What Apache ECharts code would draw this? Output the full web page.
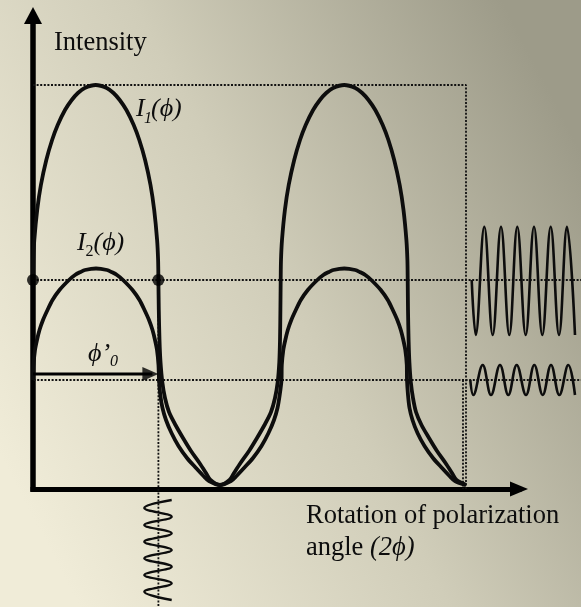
<!DOCTYPE html>
<html>
<head>
<meta charset="utf-8">
<script src="https://cdn.jsdelivr.net/npm/echarts/dist/echarts.min.js"></script>
<style>
  html, body { margin: 0; padding: 0; }
  #chart { width: 581px; height: 607px; }
</style>
</head>
<body>
<div id="chart"></div>
<script>
// Rotation angle (2φ) on x, normalised intensity on y.
const i1Curve = [
  [0, 0.5125], [0.3, 0.5625], [1.3, 0.6125], [4.2, 0.6875], [7.9, 0.75], [13.3, 0.8125],
  [19.1, 0.8625], [24.7, 0.9], [32, 0.9375], [38.7, 0.9625], [44.9, 0.98], [51.7, 0.9925],
  [62.7, 1], [73.7, 0.9925], [80.5, 0.98], [86.7, 0.9625], [93.4, 0.9375], [100.7, 0.9],
  [106.3, 0.8625], [112.1, 0.8125], [117.5, 0.75], [121.2, 0.6875], [124.1, 0.6125],
  [125.1, 0.5625], [125.4, 0.5125],
  [125.8, 0.4375], [126.5, 0.3625], [127.5, 0.3075], [129.3, 0.2575], [132, 0.2175],
  [136, 0.1825], [142.5, 0.15], [150, 0.1175], [158, 0.085], [166.5, 0.055], [173, 0.03],
  [177.5, 0.0125], [187, 0],
  [196.5, 0.0125], [201, 0.03], [207.5, 0.055], [216, 0.085], [224, 0.1175], [231.5, 0.15],
  [238, 0.1825], [242, 0.2175], [244.7, 0.2575], [246.3, 0.3075], [247, 0.3625], [247.4, 0.4375],
  [247.7, 0.5125],
  [248, 0.5625], [249, 0.6125], [251.9, 0.6875], [255.7, 0.75], [261.2, 0.8125], [267, 0.8625],
  [272.7, 0.9], [280.1, 0.9375], [286.9, 0.9625], [293.2, 0.98], [300.1, 0.9925], [311.2, 1],
  [322.3, 0.9925], [329.2, 0.98], [335.5, 0.9625], [342.3, 0.9375], [349.7, 0.9], [355.4, 0.8625],
  [361.2, 0.8125], [366.7, 0.75], [370.5, 0.6875], [373.4, 0.6125], [374.4, 0.5625],
  [374.7, 0.5125],
  [375, 0.4375], [375.6, 0.3625], [376.4, 0.3075], [377.8, 0.2575], [380, 0.2175], [383, 0.1825],
  [388.5, 0.15], [396, 0.1175], [404, 0.085], [412.5, 0.055], [419, 0.03], [423.5, 0.0125],
  [433, 0]
];
const i2Curve = [
  [0, 0.2625], [0.5, 0.3], [2, 0.3375], [4, 0.3625], [6.5, 0.3875], [10, 0.4125], [14.5, 0.4375],
  [19.5, 0.4625], [26.5, 0.4875], [36, 0.5125], [42, 0.525], [47.5, 0.5325], [52, 0.5375],
  [63, 0.5413], [74, 0.5375], [78.5, 0.5325], [84, 0.525], [90, 0.5125], [99.5, 0.4875],
  [106.5, 0.4625], [111.5, 0.4375], [116, 0.4125], [119.5, 0.3875], [122, 0.3625], [124, 0.3375],
  [125.5, 0.3],
  [126, 0.2625], [127.3, 0.225], [129.5, 0.1925], [133, 0.1625], [138.5, 0.13], [145.5, 0.0975],
  [154, 0.0675], [163, 0.0425], [170.5, 0.0225], [176, 0.01], [187, 0],
  [198, 0.01], [203.5, 0.0225], [211, 0.0425], [220, 0.0675], [228.5, 0.0975], [235.5, 0.13],
  [241, 0.1625], [244.5, 0.1925], [246.7, 0.225], [248.5, 0.2625], [248.8, 0.3],
  [250.3, 0.3375], [252.3, 0.3625], [254.8, 0.3875], [258.3, 0.4125], [262.8, 0.4375],
  [267.8, 0.4625], [274.8, 0.4875], [284.3, 0.5125], [290.3, 0.525], [295.8, 0.5325],
  [300.3, 0.5375], [311.3, 0.5413], [322.3, 0.5375], [326.8, 0.5325], [332.3, 0.525],
  [338.3, 0.5125], [347.8, 0.4875], [354.8, 0.4625], [359.8, 0.4375], [364.3, 0.4125],
  [367.8, 0.3875], [370.3, 0.3625], [372.3, 0.3375], [373.8, 0.3],
  [374, 0.2625], [375, 0.225], [376.5, 0.1925], [379.5, 0.1625], [384.5, 0.13], [391.5, 0.0975],
  [400, 0.0675], [409, 0.0425], [416.5, 0.0225], [422, 0.01], [433, 0]
];

// Detector traces: oscillation read out at each intensity level, and the phase trace.
const i1Readout = [
  [438.7, 0.5125], [442.7, 0.375], [451.3, 0.6458], [459.7, 0.375], [468, 0.6458], [476.3, 0.375],
  [484.3, 0.6458], [492.7, 0.375], [501, 0.6458], [509.3, 0.375], [517.7, 0.6458], [526, 0.375],
  [534, 0.6458], [542, 0.375]
];
const i2Readout = [
  [437.3, 0.2625], [440.3, 0.225], [449.7, 0.3], [458, 0.225], [467, 0.3], [475.3, 0.225],
  [483.7, 0.3], [493, 0.225], [501.3, 0.3], [509.7, 0.225], [518, 0.3], [526.3, 0.225],
  [535.3, 0.3], [542, 0.225]
];
const phaseTrace = [
  [138.7, -0.0375], [111.3, -0.0575], [138.7, -0.0792], [111.3, -0.1], [138.7, -0.1208],
  [111.3, -0.1418], [138.7, -0.1625], [111.3, -0.1833], [138.7, -0.2042], [111.3, -0.225],
  [138.7, -0.2458], [111.3, -0.2668], [138.7, -0.2875]
];

// Marked crossings of I1 with its level, and the phase offset φ'0.
const crossings = [[0, 0.5125], [125.4, 0.5125]];
const phaseShift = 125.4;
const phaseArrowLevel = 0.2775;

// Dotted guide paths.
const guidePaths = [
  [[0, 1], [433, 1], [433, -0.01]],
  [[-2, 0.2625], [-2, -0.01]],
  [[430, 0.2625], [430, -0.01]],
  [[0, 0.5125], [548, 0.5125]],
  [[-3, 0.2625], [548, 0.2625]],
  [[125.4, 0.5125], [125.4, -0.305]]
];

const SERIF = '"Liberation Serif", "DejaVu Serif", serif';
const INK = '#0d0d0d';

const chart = echarts.init(document.getElementById('chart'));

function label(x, y, text, size, italic) {
  return {
    type: 'text', z: 100,
    style: {
      x: x, y: y, text: text,
      font: (italic ? 'italic ' : '') + size + 'px ' + SERIF,
      fill: INK, textAlign: 'left', textVerticalAlign: 'middle'
    }
  };
}

// Overlay series share the main scale but live on a wider, taller grid so nothing is clipped.
function overlay(data, style, smooth) {
  return {
    type: 'line', data: data, symbol: 'none', clip: false, silent: true,
    xAxisIndex: 1, yAxisIndex: 1, smooth: smooth || false, lineStyle: style, z: 2
  };
}

const guideSeries = guidePaths.map(function (path) {
  return overlay(path, { color: '#111', width: 1.8, type: [2, 1.6] });
});

const hiddenAxis = {
  show: false, axisLine: { show: false }, axisTick: { show: false },
  axisLabel: { show: false }, splitLine: { show: false }
};
const curveStyle = { color: INK, width: 3.8 };

chart.setOption({
  animation: false,
  backgroundColor: {
    type: 'linear', x: 0, y: 0.75, x2: 1, y2: 0.25,
    colorStops: [
      { offset: 0, color: '#f0ecd8' },
      { offset: 0.5, color: '#d0cdb9' },
      { offset: 1, color: '#9d9b89' }
    ]
  },
  grid: [
    { left: 33, right: 62, top: 15.5, bottom: 118 },
    { left: 33, right: 0, top: 15.5, bottom: 0 }
  ],
  xAxis: [
    {
      type: 'value', min: 0, max: 486, gridIndex: 0,
      axisLine: {
        onZero: false, symbol: ['none', 'triangle'], symbolSize: [15, 18],
        lineStyle: { color: '#000', width: 5, cap: 'square' }
      },
      axisTick: { show: false }, axisLabel: { show: false }, splitLine: { show: false }
    },
    Object.assign({ type: 'value', min: 0, max: 548, gridIndex: 1 }, hiddenAxis)
  ],
  yAxis: [
    {
      type: 'value', min: -0.01, max: 1.17375, gridIndex: 0,
      axisLine: {
        onZero: false, symbol: ['none', 'triangle'], symbolSize: [18, 17],
        lineStyle: { color: '#000', width: 5.5, cap: 'square' }
      },
      axisTick: { show: false }, axisLabel: { show: false }, splitLine: { show: false }
    },
    Object.assign({ type: 'value', min: -0.305, max: 1.17375, gridIndex: 1 }, hiddenAxis)
  ],
  graphic: [
    label(54, 43, 'Intensity', 26.5, false),
    label(306, 516.5, 'Rotation of polarization', 26.5, false),
    {
      type: 'text', z: 100,
      style: {
        x: 306, y: 548.5, text: '{r|angle }{i|(2ϕ)}',
        textAlign: 'left', textVerticalAlign: 'middle',
        rich: {
          r: { font: '26.5px ' + SERIF, fill: INK },
          i: { font: 'italic 26.5px ' + SERIF, fill: INK }
        }
      }
    },
    label(136, 109.5, 'I', 26, true),
    label(144, 119, '1', 16, true),
    label(151, 109.5, '(ϕ)', 26, true),
    label(77, 243, 'I', 26, true),
    label(85.5, 251.5, '2', 16, false),
    label(93.5, 243, '(ϕ)', 26, true),
    label(88, 354.5, 'ϕ’', 26, true),
    label(110, 361.5, '0', 16, true)
  ],
  series: guideSeries.concat([
    overlay(i1Readout, { color: INK, width: 2.6 }, 0.4),
    overlay(i2Readout, { color: INK, width: 2.6 }, 0.4),
    overlay(phaseTrace, { color: INK, width: 2.3 }, 0.4),
    {
      name: 'I1', type: 'line', data: i1Curve, symbol: 'none', smooth: 0.3, clip: false,
      lineStyle: curveStyle, z: 3
    },
    {
      name: 'I2', type: 'line', data: i2Curve, symbol: 'none', smooth: 0.3, clip: false,
      lineStyle: curveStyle, z: 3
    },
    {
      name: 'phase offset', type: 'line', symbol: 'none', clip: false, silent: true,
      data: [[0, phaseArrowLevel], [phaseShift - 6, phaseArrowLevel]],
      lineStyle: { color: '#000', width: 3 }, z: 4
    },
    {
      name: 'phase offset head', type: 'scatter', clip: false, silent: true,
      data: [[phaseShift, phaseArrowLevel]],
      symbol: 'triangle', symbolSize: [14, 16], symbolRotate: -90, symbolOffset: [-8, 0],
      itemStyle: { color: '#000' }, z: 4
    },
    {
      name: 'crossings', type: 'scatter', data: crossings, symbolSize: 12, clip: false,
      silent: true, itemStyle: { color: '#000' }, z: 5
    }
  ])
});
</script>
</body>
</html>
